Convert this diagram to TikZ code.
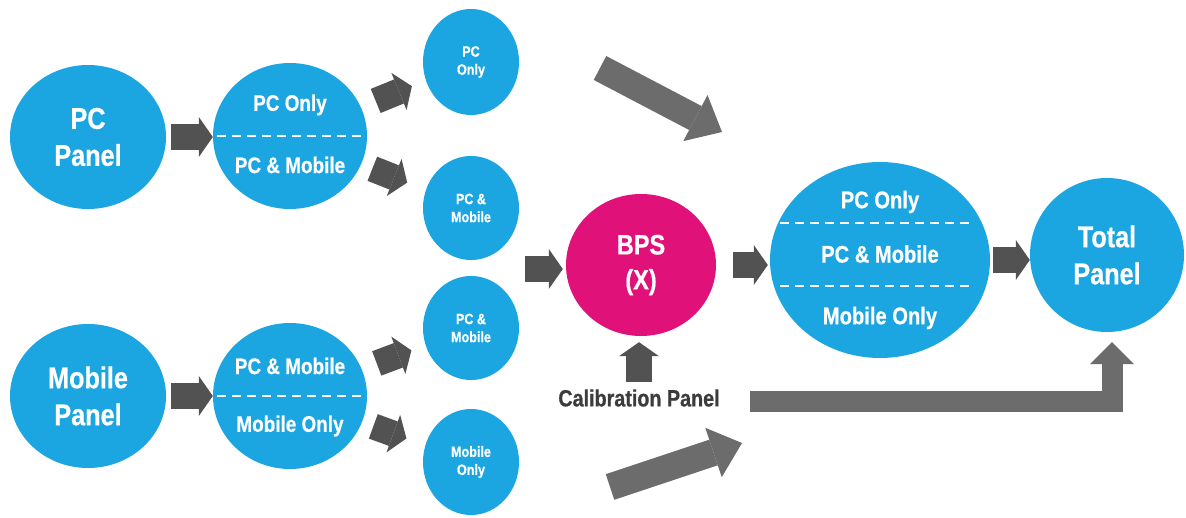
\documentclass[tikz,border=0pt]{standalone}
\usepackage{fontspec}
\setmainfont{Liberation Sans}[FakeStretch=0.84, BoldFeatures={FakeBold=0.6}]
\usetikzlibrary{shapes.geometric,arrows.meta,calc}
\definecolor{pblue}{HTML}{1BA6E2}
\definecolor{pmag}{HTML}{E0127A}
\definecolor{adark}{HTML}{525252}
\definecolor{alight}{HTML}{6C6C6C}
\definecolor{ctext}{HTML}{3C3C3C}
\begin{document}
\begin{tikzpicture}[x=1pt,y=-1pt,
  circ/.style={ellipse, fill=pblue, inner sep=0pt, text=white, align=center},
  lbl/.style={inner sep=0pt, text=white, align=center},
  fbig/.style={font=\fontsize{30}{37}\selectfont\bfseries},
  fmid/.style={font=\fontsize{22.5}{26}\selectfont\bfseries},
  fbigmid/.style={font=\fontsize{24}{28}\selectfont\bfseries},
  fsmall/.style={font=\fontsize{15}{18}\selectfont\bfseries},
  splitline/.style={white, line width=2pt, dash pattern=on 9pt off 6pt},
  blkS/.style={draw=adark, line width=26pt, -{Triangle[length=14pt,width=40pt,line width=0pt]}},
  blkB/.style={draw=alight, line width=27pt, -{Triangle[length=30pt,width=52pt,line width=0pt]}},
  blkL/.style={draw=alight, line width=21pt, line join=miter, -{Triangle[length=22pt,width=44pt,line width=0pt]}}
]
\useasboundingbox (0,0) rectangle (1186,518);
\fill[white] (0,0) rectangle (1186,518);

% left panels
\node[circ, fbig, minimum width=156pt, minimum height=144pt] (pc) at (88,137) {PC\\Panel};
\node[circ, fbig, minimum width=156pt, minimum height=144pt] (mob) at (88,396) {Mobile\\Panel};

% split circles
\node[circ, minimum width=154pt, minimum height=146pt] (sp1) at (290,136) {};
\node[lbl, fmid] (sp1a) at ($(sp1)+(0,-31)$) {PC Only};
\node[lbl, fmid] (sp1b) at ($(sp1)+(0,29)$) {PC \& Mobile};
\draw[splitline] ($(sp1.west)+(4,0)$) -- ($(sp1.east)+(-4,0)$);

\node[circ, minimum width=154pt, minimum height=146pt] (sp2) at (290,396) {};
\node[lbl, fmid] (sp2a) at ($(sp2)+(0,-30)$) {PC \& Mobile};
\node[lbl, fmid] (sp2b) at ($(sp2)+(0,30)$) {Mobile Only};
\draw[splitline] ($(sp2.west)+(4,0)$) -- ($(sp2.east)+(-4,0)$);

% small circles
\node[circ, fsmall, minimum width=96pt, minimum height=106pt] (s1) at (471,62) {PC\\Only};
\node[circ, fsmall, minimum width=96pt, minimum height=104pt] (s2) at (471,208) {PC \&\\Mobile};
\node[circ, fsmall, minimum width=96pt, minimum height=104pt] (s3) at (471,328) {PC \&\\Mobile};
\node[circ, fsmall, minimum width=96pt, minimum height=106pt] (s4) at (471,462) {Mobile\\Only};

% BPS
\node[circ, fill=pmag, font=\fontsize{28}{35}\selectfont\bfseries, minimum width=150pt, minimum height=142pt] (bps) at (641,265) {BPS\\(X)};
\node[inner sep=0pt, text=ctext, font=\fontsize{23.5}{26}\selectfont\bfseries] (calib) at (639,398) {Calibration Panel};

% big split circle
\node[circ, minimum width=220pt, minimum height=196pt] (big) at (880,260) {};
\node[lbl, fbigmid] (biga) at ($(big)+(0,-58)$) {PC Only};
\node[lbl, fbigmid] (bigb) at ($(big)+(0,-6)$) {PC \& Mobile};
\node[lbl, fbigmid] (bigc) at ($(big)+(0,58)$) {Mobile Only};
\draw[splitline] ($(big)+(-100,-37)$) -- ($(big)+(90,-37)$);
\draw[splitline] ($(big)+(-100,26)$) -- ($(big)+(90,26)$);

% total
\node[circ, fbig, minimum width=154pt, minimum height=154pt] (total) at (1107,255) {Total\\Panel};

% small arrows
\draw[blkS, shorten <=5pt] (pc.east) -- (pc.east -| sp1.west);
\draw[blkS, shorten <=5pt] (mob.east) -- (mob.east -| sp2.west);
\draw[blkS, shorten <=16pt, shorten >=15pt] (sp1) -- (s1);
\draw[blkS, shorten <=12pt, shorten >=20pt] (sp1) -- (s2);
\draw[blkS, shorten <=16pt, shorten >=15pt] (sp2) -- (s3);
\draw[blkS, shorten <=12pt, shorten >=20pt] (sp2) -- (s4);

\coordinate (bin) at (525,269);
\draw[blkS, shorten >=3pt] (bin) -- (bin -| bps.west);
\draw[blkS, shorten <=17pt, shorten >=2pt] (bps.east) -- (bps.east -| big.west);
\draw[blkS, shorten <=3pt] (big.east) -- (big.east -| total.west);
\draw[blkS, shorten <=7pt, shorten >=6pt] (calib.north) -- (calib.north |- bps.south);

% big arrows
\coordinate (ta1) at (600,68);
\coordinate (ta2) at (722,132);
\draw[blkB] (ta1) -- (ta2);
\coordinate (ba1) at (610,487);
\coordinate (ba2) at (742,443);
\draw[blkB] (ba1) -- (ba2);

% L-shaped arrow
\coordinate (lstart) at (750,402);
\coordinate (lcorner) at (1112,402);
\draw[blkL, shorten >=10pt] (lstart) -- (lcorner) -- (lcorner |- total.south);
\end{tikzpicture}
\end{document}
